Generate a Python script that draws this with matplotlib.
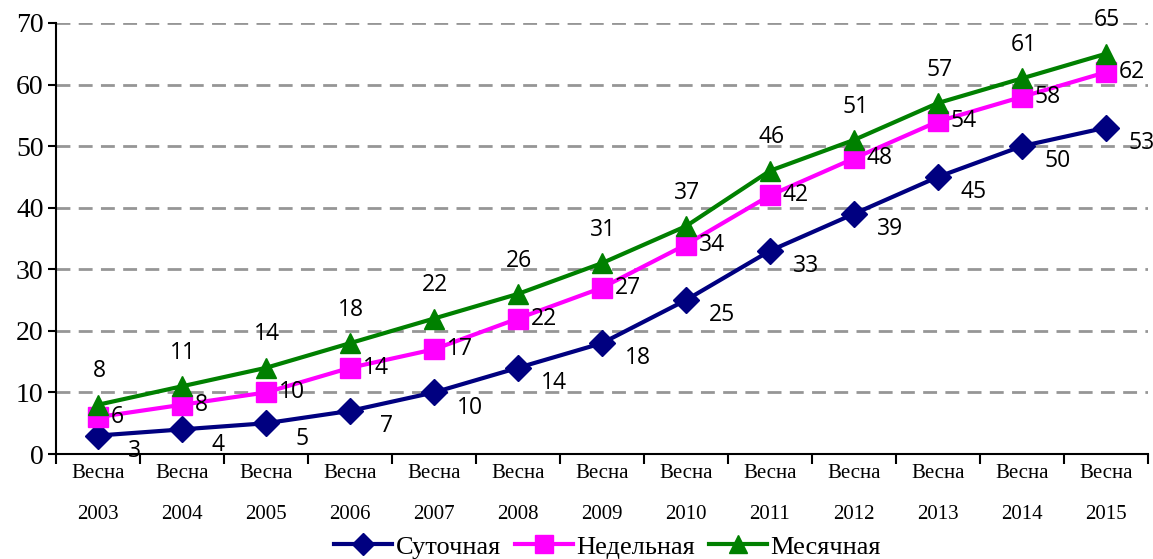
import matplotlib
matplotlib.use('Agg')
import matplotlib.pyplot as plt

# годы и ряды
years = ['2003', '2004', '2005', '2006', '2007', '2008', '2009',
         '2010', '2011', '2012', '2013', '2014', '2015']
labels = ['Весна\n' + y for y in years]
daily = [3, 4, 5, 7, 10, 14, 18, 25, 33, 39, 45, 50, 53]
weekly = [6, 8, 10, 14, 17, 22, 27, 34, 42, 48, 54, 58, 62]
monthly = [8, 11, 14, 18, 22, 26, 31, 37, 46, 51, 57, 61, 65]

serif = 'Liberation Serif'
sans = 'Open Sans'

fig = plt.figure(figsize=(11.53, 5.59), dpi=100)
ax = fig.add_axes([0.0486, 0.1878, 0.947, 0.7711])

x = list(range(len(years)))
l1, = ax.plot(x, daily, color='#000080', lw=3, marker='D', ms=13,
              label='Суточная', zorder=3)
l2, = ax.plot(x, weekly, color='#FF00FF', lw=3, marker='s', ms=15,
              label='Недельная', zorder=3)
l3, = ax.plot(x, monthly, color='#008000', lw=3, marker='^', ms=15,
              label='Месячная', zorder=3)

for i in x:
    ax.annotate(str(daily[i]), (i, daily[i]), xytext=(26, -11),
                textcoords='offset points', ha='center', va='center',
                fontsize=16.5, family=sans)
    ax.annotate(str(weekly[i]), (i, weekly[i]), xytext=(9, 0),
                textcoords='offset points', ha='left', va='center',
                fontsize=16.5, family=sans)
    ax.annotate(str(monthly[i]), (i, monthly[i]), xytext=(1, 24),
                textcoords='offset points', ha='center', va='center',
                fontsize=16.5, family=sans)

ax.set_xlim(-0.5, len(years) - 0.5)
ax.set_ylim(0, 70)
ax.set_yticks(range(0, 71, 10))
ax.tick_params(axis='y', labelsize=20, length=6, width=1.5, direction='out',
               pad=3)
for t in ax.get_yticklabels():
    t.set_family(serif)

ax.set_xticks([i - 0.5 for i in range(len(years) + 1)])
ax.set_xticklabels([])
ax.set_xticks(x, minor=True)
ax.set_xticklabels(labels, minor=True, fontsize=15, family=serif,
                   linespacing=2.6)
ax.tick_params(axis='x', which='major', length=7, width=1.5, direction='out')
ax.tick_params(axis='x', which='minor', length=0, pad=7)

ax.yaxis.grid(True, color='#969696', linestyle=(0, (5, 3)), lw=2)
ax.set_axisbelow(True)
for s in ['top', 'right']:
    ax.spines[s].set_visible(False)
for s in ['left', 'bottom']:
    ax.spines[s].set_linewidth(1.5)

fig.legend(handles=[l1, l2, l3], loc='lower center', ncol=3,
           bbox_to_anchor=(0.527, -0.042), frameon=False,
           prop={'family': serif, 'size': 19}, handlelength=2.2,
           handletextpad=0.15, columnspacing=0.5, markerscale=0.85)

fig.savefig('out.png', dpi=100)
